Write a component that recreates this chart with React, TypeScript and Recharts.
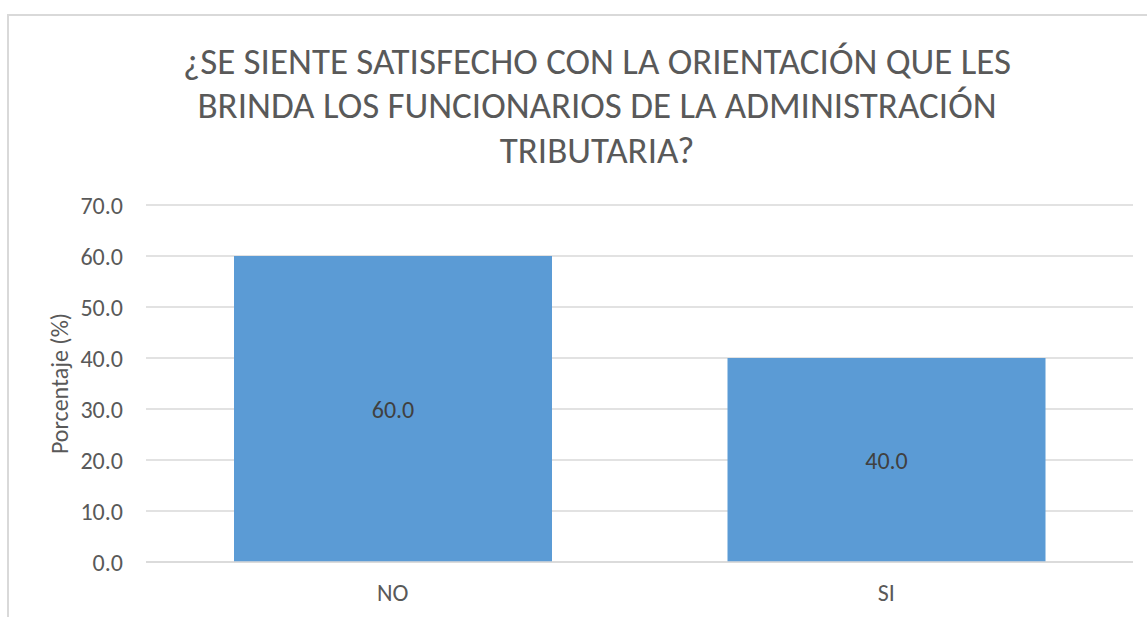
import { BarChart, Bar, XAxis, YAxis, CartesianGrid, LabelList, Label } from 'recharts';

const categories = ['NO', 'SI'];
const porcentajes = [60.0, 40.0];
const yTicks = [0, 10, 20, 30, 40, 50, 60, 70];
const titleLines = [
  '¿SE SIENTE SATISFECHO CON LA ORIENTACIÓN QUE LES',
  'BRINDA LOS FUNCIONARIOS DE LA ADMINISTRACIÓN',
  'TRIBUTARIA?',
];

const data = categories.map((name, i) => ({ name, value: porcentajes[i] }));

const FONT = "Carlito, Calibri, 'Open Sans', sans-serif";
const GRID = '#d9d9d9';
const TEXT = '#595959';

function YTitle(props: any) {
  const vb = props.viewBox || {};
  const cy = vb.y + vb.height / 2;
  const x = 68;
  return (
    <text
      x={x}
      y={cy}
      transform={`rotate(-90, ${x}, ${cy})`}
      textAnchor="middle"
      fill={TEXT}
      fontSize={24}
      fontFamily={FONT}
    >
      Porcentaje (%)
    </text>
  );
}

export default function App() {
  return (
    <div
      style={{
        position: 'absolute',
        left: 0,
        top: 0,
        width: 1147,
        height: 617,
        overflow: 'hidden',
        background: '#fff',
        fontFamily: FONT,
      }}
    >
      <div
        style={{
          position: 'absolute',
          left: 7,
          top: 14,
          width: 1300,
          height: 800,
          border: `2px solid ${GRID}`,
          boxSizing: 'border-box',
        }}
      />
      <svg
        width={1147}
        height={200}
        style={{ position: 'absolute', left: 0, top: 0, pointerEvents: 'none' }}
      >
        {titleLines.map((line, i) => (
          <text
            key={i}
            x={597}
            y={73.5 + i * 44.5}
            textAnchor="middle"
            fill={TEXT}
            fontSize={37}
            fontFamily={FONT}
          >
            {line}
          </text>
        ))}
      </svg>
      <div style={{ position: 'absolute', left: 0, top: 0 }}>
        <BarChart
          width={1147}
          height={617}
          data={data}
          margin={{ top: 205, right: 14, bottom: 15, left: 66 }}
        >
          <CartesianGrid vertical={false} stroke={GRID} strokeWidth={1.5} />
          <XAxis
            dataKey="name"
            height={40}
            axisLine={{ stroke: GRID, strokeWidth: 1.5 }}
            tickLine={false}
            tickSize={6}
            tickMargin={16}
            tick={{ fill: TEXT, fontSize: 24, fontFamily: FONT }}
          />
          <YAxis
            width={80}
            domain={[0, 70]}
            ticks={yTicks}
            interval={0}
            axisLine={false}
            tickLine={false}
            tickSize={6}
            tickMargin={17}
            tickFormatter={(v: number) => v.toFixed(1)}
            tick={{ fill: TEXT, fontSize: 24, fontFamily: FONT }}
          >
            <Label content={<YTitle />} />
          </YAxis>
          <Bar dataKey="value" fill="#5B9BD5" barSize={318} isAnimationActive={false}>
            <LabelList
              dataKey="value"
              position="center"
              formatter={(v: any) => Number(v).toFixed(1)}
              fill="#404040"
              fontSize={24}
              fontFamily={FONT}
            />
          </Bar>
        </BarChart>
      </div>
    </div>
  );
}
